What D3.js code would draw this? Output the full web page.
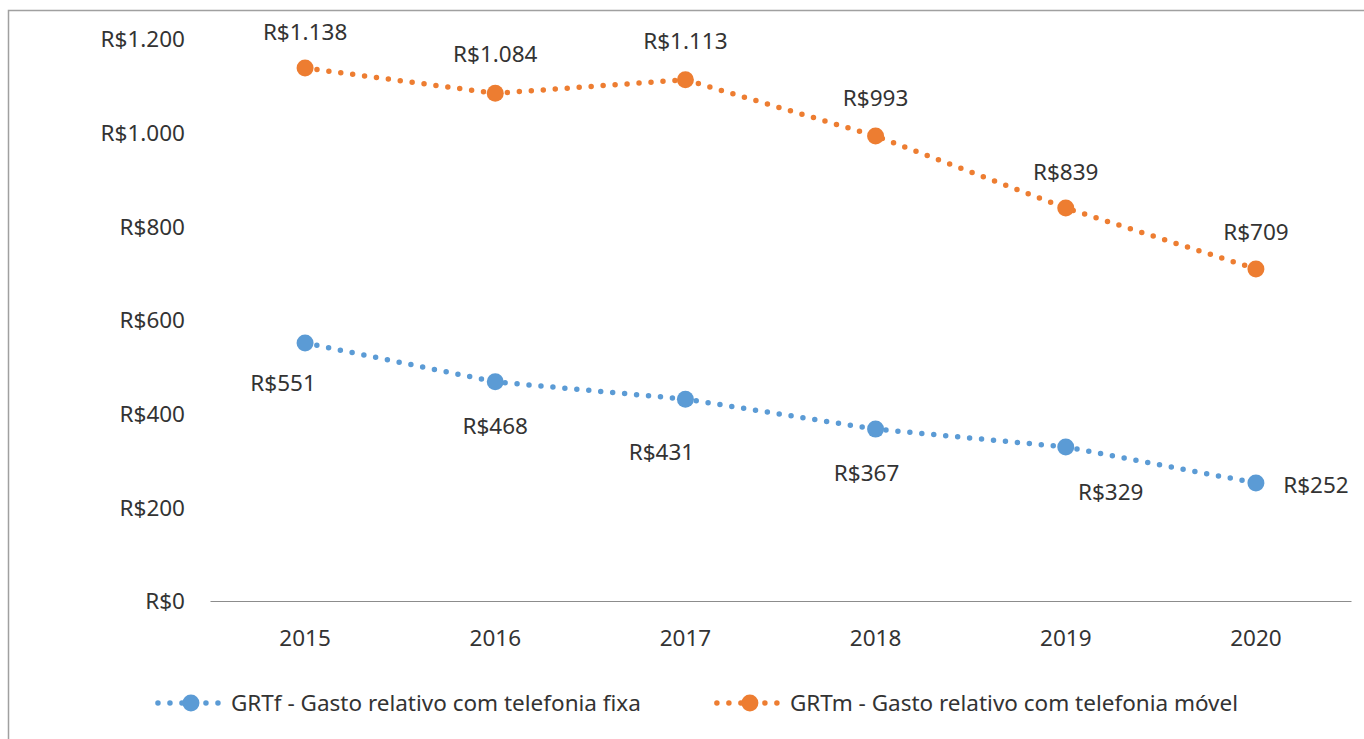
<!DOCTYPE html>
<html>
<head>
<meta charset="utf-8">
<script src="https://d3js.org/d3.v7.min.js"></script>
<style>
  html, body { margin: 0; padding: 0; background: #fff; }
  svg text { font-family: "Noto Sans", "Liberation Sans", sans-serif; fill: #333; }
</style>
</head>
<body>
<div id="chart"></div>
<script>
// data
var years = ["2015", "2016", "2017", "2018", "2019", "2020"];
var fixa = [551, 468, 431, 367, 329, 252];
var movel = [1138, 1084, 1113, 993, 839, 709];
var yTicks = [0, 200, 400, 600, 800, 1000, 1200];
var seriesNames = ["GRTf - Gasto relativo com telefonia fixa", "GRTm - Gasto relativo com telefonia móvel"];
var seriesColors = ["#5b9bd5", "#ed7d31"];

// manual label placement (dx, dy from the marker), like the original
var fixaLabelPos = [[-22, 40], [0, 44], [-24, 53], [-9, 44], [45, 45], [60, 2]];
var movelLabelPos = [[0, -36], [0, -39], [0, -39], [0, -38], [0, -36], [0, -37]];

var width = 1364, height = 739;
var fontSize = 22.5;

var brl = d3.formatLocale({ decimal: ",", thousands: ".", grouping: [3], currency: ["R$", ""] });
var money = brl.format("$,.0f");

var svg = d3.select("#chart").append("svg")
  .attr("width", width)
  .attr("height", height);

// chart border (right/bottom edges fall outside the picture)
svg.append("rect")
  .attr("x", 8.5).attr("y", 10.5)
  .attr("width", 1400).attr("height", 800)
  .attr("fill", "none")
  .attr("stroke", "#a0a0a0")
  .attr("stroke-width", 1.5);

var x = d3.scaleBand().domain(years).range([210, 1351]);
var y = d3.scaleLinear().domain([0, 1200]).range([601, 39]);
var cx = function(d) { return x(d) + x.bandwidth() / 2; };

// y axis: labels only
var yAxis = d3.axisLeft(y).tickValues(yTicks).tickSize(0).tickPadding(25).tickFormat(money);
var gy = svg.append("g").attr("transform", "translate(210,0)").call(yAxis);
gy.select(".domain").remove();
gy.selectAll("text").style("font-size", fontSize + "px").attr("dy", "0.35em");

// x axis with baseline
var xAxis = d3.axisBottom(x).tickSize(0).tickSizeOuter(0).tickPadding(29);
var gx = svg.append("g").attr("transform", "translate(0,601)").call(xAxis);
gx.select(".domain").attr("stroke", "#8c8c8c").attr("stroke-width", 1.2);
gx.selectAll("text").style("font-size", fontSize + "px");

var line = d3.line()
  .x(function(d) { return cx(d.year); })
  .y(function(d) { return y(d.value); });

var series = [
  { name: seriesNames[0], color: seriesColors[0], values: fixa, pos: fixaLabelPos },
  { name: seriesNames[1], color: seriesColors[1], values: movel, pos: movelLabelPos }
];

series.forEach(function(s) {
  var pts = years.map(function(yr, i) { return { year: yr, value: s.values[i], pos: s.pos[i] }; });
  var g = svg.append("g");

  g.append("path")
    .datum(pts)
    .attr("d", line)
    .attr("fill", "none")
    .attr("stroke", s.color)
    .attr("stroke-width", 5.5)
    .attr("stroke-linecap", "round")
    .attr("stroke-dasharray", "0 12");

  g.selectAll("circle")
    .data(pts)
    .enter().append("circle")
    .attr("cx", function(d) { return cx(d.year); })
    .attr("cy", function(d) { return y(d.value); })
    .attr("r", 8.5)
    .attr("fill", s.color);

  g.selectAll("text")
    .data(pts)
    .enter().append("text")
    .attr("x", function(d) { return cx(d.year) + d.pos[0]; })
    .attr("y", function(d) { return y(d.value) + d.pos[1]; })
    .attr("dy", "0.35em")
    .attr("text-anchor", "middle")
    .style("font-size", fontSize + "px")
    .text(function(d) { return money(d.value); });
});

// legend, centred under the chart
var legend = svg.append("g");
var gap = 74;
var offset = 0;
series.forEach(function(s, i) {
  var item = legend.append("g");
  item.append("line")
    .attr("x1", 2).attr("x2", 64)
    .attr("y1", 0).attr("y2", 0)
    .attr("stroke", s.color)
    .attr("stroke-width", 5.5)
    .attr("stroke-linecap", "round")
    .attr("stroke-dasharray", "0 12");
  item.append("circle")
    .attr("cx", 35).attr("cy", 0).attr("r", 8.5)
    .attr("fill", s.color);
  var t = item.append("text")
    .attr("x", 75).attr("dy", "0.35em")
    .style("font-size", fontSize + "px")
    .text(s.name);
  item.attr("transform", "translate(" + offset + ",0)");
  offset += 75 + t.node().getComputedTextLength() + gap;
});
var legendWidth = offset - gap;
legend.attr("transform", "translate(" + (697 - legendWidth / 2) + ",703)");
</script>
</body>
</html>
